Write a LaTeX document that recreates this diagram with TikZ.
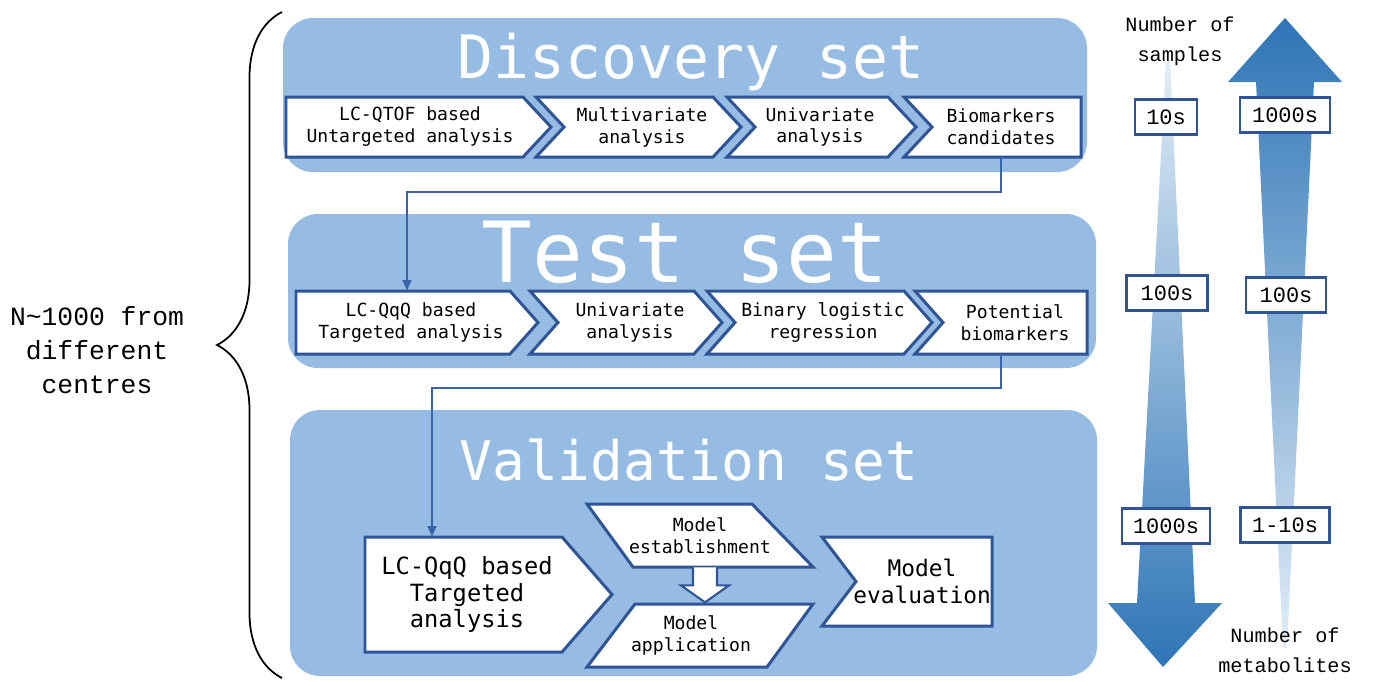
\documentclass[tikz,border=0pt]{standalone}
\usepackage{fontspec}
\newfontfamily\boxfont{DejaVu Sans Mono}
\newfontfamily\sidefont{Liberation Mono}
\usetikzlibrary{arrows.meta,decorations.pathreplacing,calc}

\definecolor{panelblue}{RGB}{150,188,227}
\definecolor{boxblue}{RGB}{47,85,151}
\definecolor{linkblue}{RGB}{58,100,170}
\definecolor{arrowdark}{RGB}{46,117,182}
\definecolor{arrowlight}{RGB}{226,237,248}

\tikzset{
  panel/.style={fill=panelblue, rounded corners=0.6cm},
  title/.style={text=white, anchor=base, inner sep=0pt},
  stepline/.style={draw=boxblue, fill=white, line width=1.7pt, line join=miter},
  steptext/.style={align=center, inner sep=0pt, font=\boxfont\fontsize{10.3}{12.5}\selectfont},
  bigtext/.style={align=center, inner sep=0pt, font=\boxfont\fontsize{13.5}{15}\selectfont},
  tag/.style={draw=boxblue, fill=white, line width=1.2pt, minimum height=0.7cm, inner sep=0pt,
    font=\sidefont\fontsize{12.5}{14}\selectfont},
  link/.style={draw=linkblue, line width=1.1pt, -{Triangle[length=6pt,width=5pt]}},
}

\begin{document}
\begin{tikzpicture}[x=0.02cm, y=-0.02cm]
    \useasboundingbox (0,0) rectangle (1378,681);

    % 三个面板
    \fill[panel] (283,18) rectangle (1087,172);
    \fill[panel] (288,214) rectangle (1096,368);
    \fill[panel] (290,410) rectangle (1097,676);

    % 标题
    \node[title, font=\boxfont\fontsize{34}{34}\selectfont] (tdisc) at (691,78) {Discovery set};
    \node[title, font=\boxfont\fontsize{48}{48}\selectfont] (ttest) at (685,282) {Test set};
    \node[title, font=\boxfont\fontsize{31}{31}\selectfont] (tvali) at (689,480) {Validation set};

    % 第一行
    \draw[stepline] (286,97) -- (523,97) -- (551,127) -- (523,157) -- (286,157) -- cycle;
    \draw[stepline] (536,97) -- (713,97) -- (741,127) -- (713,157) -- (536,157) -- (564,127) -- cycle;
    \draw[stepline] (727,97) -- (888,97) -- (916,127) -- (888,157) -- (727,157) -- (755,127) -- cycle;
    \draw[stepline] (904,97) -- (1081,97) -- (1081,157) -- (904,157) -- (932,127) -- cycle;
    \node[steptext, minimum height=1.2cm] (d1) at (410,127) {LC-QTOF based\\Untargeted analysis};
    \node[steptext, minimum height=1.2cm] (d2) at (642,127) {Multivariate\\analysis};
    \node[steptext, minimum height=1.2cm] (d3) at (820,127) {Univariate\\analysis};
    \node[steptext, minimum height=1.2cm] (d4) at (1001,127) {Biomarkers\\candidates};

    % 第二行
    \draw[stepline] (296,291) -- (510,291) -- (538,322.5) -- (510,354) -- (296,354) -- cycle;
    \draw[stepline] (530,291) -- (694,291) -- (722,322.5) -- (694,354) -- (530,354) -- (558,322.5) -- cycle;
    \draw[stepline] (707,291) -- (904,291) -- (932,322.5) -- (904,354) -- (707,354) -- (735,322.5) -- cycle;
    \draw[stepline] (915,291) -- (1087,291) -- (1087,354) -- (915,354) -- (943,322.5) -- cycle;
    \node[steptext, minimum height=1.26cm] (t1) at (411,322.5) {LC-QqQ based\\Targeted analysis};
    \node[steptext, minimum height=1.26cm] (t2) at (630,322.5) {Univariate\\analysis};
    \node[steptext, minimum height=1.26cm] (t3) at (823,322.5) {Binary logistic\\regression};
    \node[steptext, minimum height=1.26cm] (t4) at (1015,322.5) {Potential\\biomarkers};

    % 第三行
    \draw[stepline] (365,537) -- (562,537) -- (612,594.5) -- (562,652) -- (365,652) -- cycle;
    \draw[stepline] (587,504) -- (752,504) -- (813,567) -- (633,567) -- cycle;
    \draw[stepline] (635,604) -- (813,604) -- (767,667) -- (587,667) -- cycle;
    \draw[stepline] (822,537) -- (992,537) -- (992,626) -- (822,626) -- (856,581.5) -- cycle;
    \node[bigtext, minimum height=2.3cm] (q1) at (467,594.5) {LC-QqQ based\\Targeted\\analysis};
    \node[steptext, minimum height=1.26cm] (est) at (700,535.5) {Model\\establishment};
    \node[steptext, minimum height=1.26cm] (app) at (691,635.5) {Model\\application};
    \node[bigtext, font=\boxfont\fontsize{13}{15}\selectfont] (ev) at (922,581.5) {Model\\evaluation};

    % 空心箭头
    \draw[stepline, line width=1.2pt] ($(est.south)+(-7,0)$) -- ($(est.south)+(-7,18)$)
        -- ($(est.south)+(-19,18)$) -- ($(est.south)+(5,35)$) -- ($(est.south)+(29,18)$)
        -- ($(est.south)+(17,18)$) -- ($(est.south)+(17,0)$);

    % 连接线
    \draw[link] (d4.south) -- (d4.south |- 0,192) -| (407,0 |- t1.north);
    \draw[link] (t4.south -| 1001,0) -- (1001,388) -| (432,0 |- q1.north);

    % 右侧渐变箭头
    \shade[top color=arrowlight, bottom color=arrowdark]
        (1166,60) -- (1170,60) -- (1195,603) -- (1222,603) -- (1163,667) -- (1108,603) -- (1137,603) -- cycle;
    \shade[top color=arrowdark, bottom color=arrowlight]
        (1285,18) -- (1342,82) -- (1314,82) -- (1287,648) -- (1283,648) -- (1256,82) -- (1228,82) -- cycle;

    % 数量标签
    \node[tag, minimum width=1.24cm] (s10) at (1166,117) {10s};
    \node[tag, minimum width=1.8cm] (m1000) at (1285,115) {1000s};
    \node[tag, minimum width=1.62cm] (s100) at (1167,293) {100s};
    \node[tag, minimum width=1.6cm] (m100) at (1286,295) {100s};
    \node[tag, minimum width=1.76cm] (s1000) at (1166,526) {1000s};
    \node[tag, minimum width=1.78cm] (m110) at (1285,525) {1-10s};

    \node[align=center, font=\sidefont\fontsize{11.5}{17}\selectfont] (nsamp) at (1180,41) {Number of\\samples};
    \node[align=center, font=\sidefont\fontsize{11.5}{17}\selectfont] (nmeta) at (1285,650) {Number of\\metabolites};

    % 左侧大括号
    \draw[decorate, decoration={brace, amplitude=1.3cm}, line width=1pt] (282,678) -- (282,12);
    \node[align=center, font=\sidefont\fontsize{15}{19.3}\selectfont] (ncent) at (97,350)
        {N\textasciitilde1000 from\\different\\centres};
\end{tikzpicture}
\end{document}
